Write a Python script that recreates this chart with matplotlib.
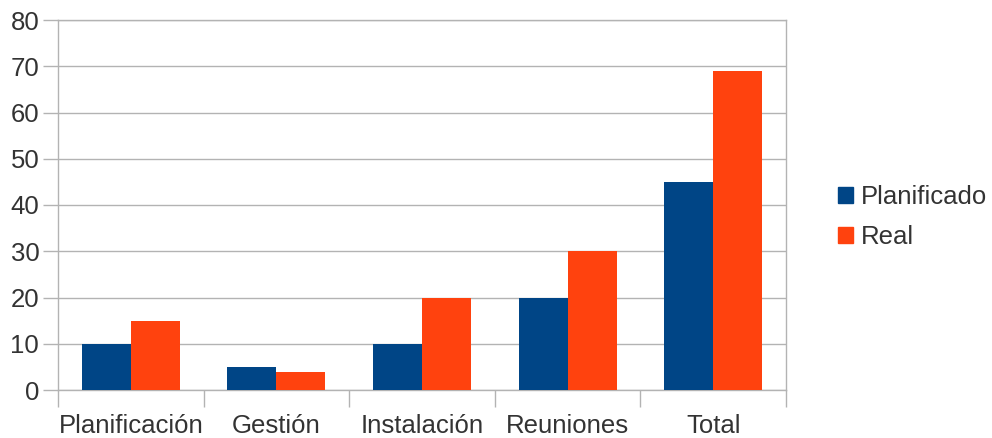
import matplotlib.pyplot as plt
import numpy as np
from matplotlib.patches import Patch

categorias = ['Planificación', 'Gestión', 'Instalación', 'Reuniones', 'Total']
planificado = [10, 5, 10, 20, 45]
real = [15, 4, 20, 30, 69]

plt.rcParams['font.family'] = ['Liberation Sans', 'DejaVu Sans']

gris = '#b3b3b3'
texto = '#333333'
azul = '#004586'
naranja = '#ff420e'
fs = 18.5

fig = plt.figure(figsize=(9.92, 4.38), dpi=100)
ax = fig.add_axes([58/992, 48/438, 728/992, 370/438])

x = np.arange(len(categorias))
ancho = 0.337
ax.bar(x - ancho/2, planificado, ancho, color=azul, zorder=3)
ax.bar(x + ancho/2, real, ancho, color=naranja, zorder=3)

ax.set_xlim(-0.5, len(categorias) - 0.5)
ax.set_ylim(0, 80)
ax.set_yticks(range(0, 81, 10))
ax.yaxis.grid(True, color=gris, linewidth=1, zorder=0)

# etiquetas centradas, marcas entre categorias
ax.set_xticks(x)
ax.set_xticklabels(categorias)
ax.set_xticks(np.arange(-0.5, len(categorias), 1), minor=True)
ax.tick_params(axis='x', which='major', length=0, pad=17, labelsize=fs, labelcolor=texto)
ax.tick_params(axis='x', which='minor', length=12, color=gris, width=1)
ax.tick_params(axis='y', length=11, color=gris, width=1, pad=2.5, labelsize=fs, labelcolor=texto)

for s in ax.spines.values():
    s.set_color(gris)
    s.set_linewidth(1)

handles = [Patch(color=azul, label='Planificado'), Patch(color=naranja, label='Real')]
fig.legend(handles=handles, loc='center left', bbox_to_anchor=(828/992, 1 - 217/438),
           frameon=False, fontsize=fs, labelcolor=texto, handlelength=0.58,
           handleheight=0.58, handletextpad=0.3, labelspacing=0.65, borderaxespad=0)

fig.savefig('out.png', dpi=100)
